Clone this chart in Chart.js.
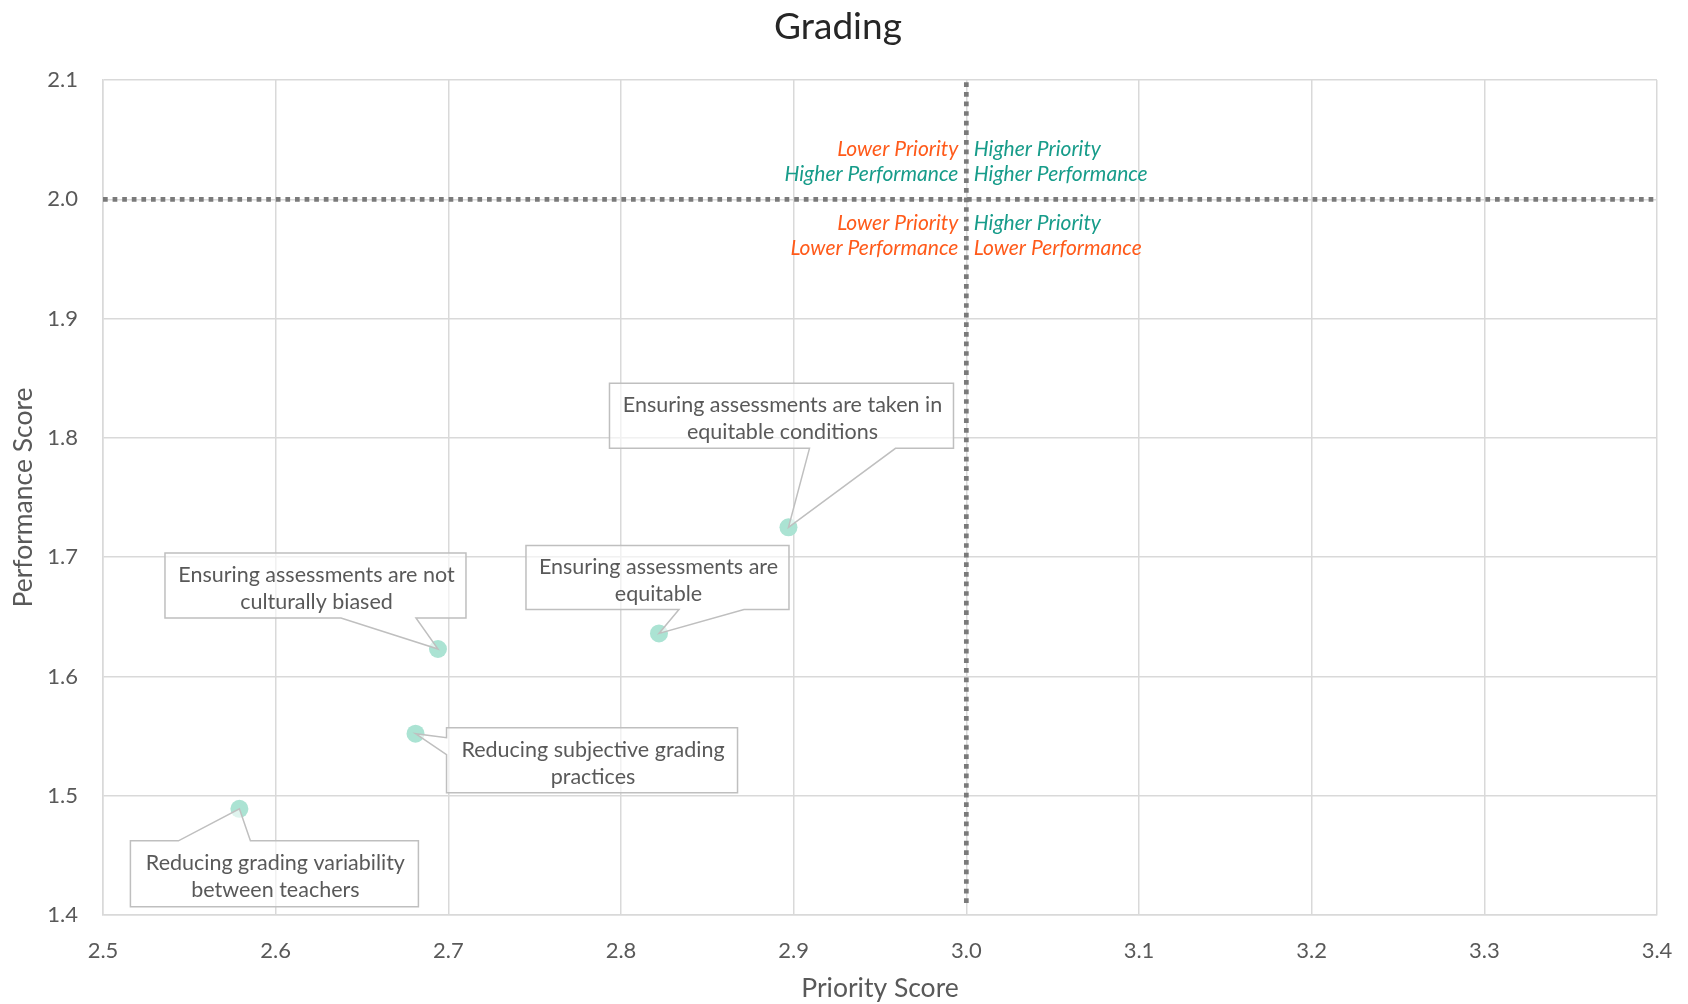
<!DOCTYPE html>
<html>
<head>
<meta charset="utf-8">
<script src="https://cdn.jsdelivr.net/npm/chart.js@4.4.1/dist/chart.umd.min.js"></script>
<style>
  html, body { margin: 0; padding: 0; background: #ffffff; }
  #wrap { width: 1688px; height: 1004px; }
  canvas { display: block; }
</style>
</head>
<body>
<div id="wrap"><canvas id="chart" width="1688" height="1004"></canvas></div>
<script>
// ---- Content ----
const chartTitle = 'Grading';
const xAxisTitle = 'Priority Score';
const yAxisTitle = 'Performance Score';

const xTickLabels = ['2.5', '2.6', '2.7', '2.8', '2.9', '3.0', '3.1', '3.2', '3.3', '3.4'];
const yTickLabels = ['1.4', '1.5', '1.6', '1.7', '1.8', '1.9', '2.0', '2.1'];

const itemLabels = [
  ['Ensuring assessments are taken in', 'equitable conditions'],
  ['Ensuring assessments are', 'equitable'],
  ['Ensuring assessments are not', 'culturally biased'],
  ['Reducing subjective grading', 'practices'],
  ['Reducing grading variability', 'between teachers']
];
const priorityScores    = [2.897, 2.822, 2.694, 2.681, 2.579];
const performanceScores = [1.725, 1.636, 1.623, 1.552, 1.489];

// Quadrant dividers
const priorityThreshold = 3.0;
const performanceThreshold = 2.0;
const dividerBottom = 1.41;

const quadrantTopLeft     = ['Lower Priority', 'Higher Performance'];
const quadrantTopRight    = ['Higher Priority', 'Higher Performance'];
const quadrantBottomLeft  = ['Lower Priority', 'Lower Performance'];
const quadrantBottomRight = ['Higher Priority', 'Lower Performance'];

// ---- Styling ----
const ORANGE = '#FF5A1A';
const TEAL = '#179C8A';
const GRID = '#D9D9D9';
const TEXT = '#595959';
const DOTS = '#7A7A7A';

// Callout box placement, in pixels relative to the point it points at.
// side: edge of the box the pointer leaves from; a/b: pointer base along that edge.
const calloutLayout = [
  { dx: -179, dy: -144, w: 344, h: 65, side: 'bottom', a: 21,  b: 107 },
  { dx: -133, dy: -88,  w: 263, h: 64, side: 'bottom', a: 20,  b: 85 },
  { dx: -273, dy: -96,  w: 301, h: 65, side: 'bottom', a: -97, b: -22 },
  { dx: 31,   dy: -6,   w: 291, h: 65, side: 'left',   a: 4,   b: 21 },
  { dx: -109, dy: 32,   w: 288, h: 66, side: 'top',    a: -61, b: 11 }
];

const points = priorityScores.map((x, i) => ({ x, y: performanceScores[i] }));

function colorFor(word) { return word.startsWith('Higher') ? TEAL : ORANGE; }

const annotationPlugin = {
  id: 'quadrantAndCallouts',
  afterDatasetsDraw(chart) {
    const { ctx, scales: { x: xs, y: ys } } = chart;

    // Quadrant captions around the divider crossing
    const cx = xs.getPixelForValue(priorityThreshold);
    const cy = ys.getPixelForValue(performanceThreshold);
    ctx.save();
    ctx.font = 'italic 21px Lato';
    ctx.textBaseline = 'alphabetic';
    const rows = [
      [quadrantTopLeft[0], quadrantTopRight[0], -43],
      [quadrantTopLeft[1], quadrantTopRight[1], -18],
      [quadrantBottomLeft[0], quadrantBottomRight[0], 31],
      [quadrantBottomLeft[1], quadrantBottomRight[1], 56]
    ];
    rows.forEach(([l, r, off]) => {
      ctx.textAlign = 'right';
      ctx.fillStyle = colorFor(l);
      ctx.fillText(l, cx - 8, cy + off);
      ctx.textAlign = 'left';
      ctx.fillStyle = colorFor(r);
      ctx.fillText(r, cx + 7.5, cy + off);
    });
    ctx.restore();

    // Callouts
    ctx.save();
    ctx.lineWidth = 1.5;
    ctx.strokeStyle = '#BFBFBF';
    ctx.fillStyle = 'rgba(255,255,255,0.62)';
    ctx.lineJoin = 'miter';
    points.forEach((p, i) => {
      const L = calloutLayout[i];
      const px = xs.getPixelForValue(p.x);
      const py = ys.getPixelForValue(p.y);
      const x0 = px + L.dx, y0 = py + L.dy, x1 = x0 + L.w, y1 = y0 + L.h;
      ctx.beginPath();
      if (L.side === 'bottom') {
        ctx.moveTo(x0, y0); ctx.lineTo(x1, y0); ctx.lineTo(x1, y1);
        ctx.lineTo(px + L.b, y1); ctx.lineTo(px, py); ctx.lineTo(px + L.a, y1);
        ctx.lineTo(x0, y1);
      } else if (L.side === 'top') {
        ctx.moveTo(x0, y0); ctx.lineTo(px + L.a, y0); ctx.lineTo(px, py);
        ctx.lineTo(px + L.b, y0); ctx.lineTo(x1, y0); ctx.lineTo(x1, y1);
        ctx.lineTo(x0, y1);
      } else {
        ctx.moveTo(x0, y0); ctx.lineTo(x1, y0); ctx.lineTo(x1, y1);
        ctx.lineTo(x0, y1); ctx.lineTo(x0, py + L.b); ctx.lineTo(px, py);
        ctx.lineTo(x0, py + L.a);
      }
      ctx.closePath();
      ctx.fill();
      ctx.stroke();

      ctx.save();
      ctx.fillStyle = TEXT;
      ctx.font = '21.5px Lato';
      ctx.textAlign = 'center';
      ctx.textBaseline = 'alphabetic';
      const mid = (x0 + x1) / 2 + 1;
      itemLabels[i].forEach((line, k) => {
        ctx.fillText(line, mid, y0 + 29 + k * 27);
      });
      ctx.restore();
    });
    ctx.restore();
  },
  afterDraw(chart) {
    // Chart heading, centred a little left of the canvas middle
    const { ctx } = chart;
    ctx.save();
    ctx.font = '37px Lato';
    ctx.fillStyle = '#262626';
    ctx.textAlign = 'center';
    ctx.textBaseline = 'alphabetic';
    ctx.fillText(chartTitle, 838, 38.5);
    ctx.restore();
  }
};

const dividerStyle = {
  showLine: true,
  borderColor: DOTS,
  borderWidth: 4.7,
  borderDash: [4.7, 4.9],
  borderCapStyle: 'butt',
  pointRadius: 0,
  fill: false
};

new Chart(document.getElementById('chart'), {
  type: 'scatter',
  data: {
    datasets: [
      {
        label: 'Items',
        data: points,
        pointRadius: 9,
        pointHoverRadius: 9,
        pointBackgroundColor: '#ABE3D3',
        pointBorderWidth: 0,
        showLine: false
      },
      Object.assign({
        label: 'Performance divider',
        data: [{ x: 2.5, y: performanceThreshold }, { x: 3.4, y: performanceThreshold }]
      }, dividerStyle),
      Object.assign({
        label: 'Priority divider',
        data: [{ x: priorityThreshold, y: dividerBottom }, { x: priorityThreshold, y: 2.1 }]
      }, dividerStyle)
    ]
  },
  options: {
    responsive: false,
    animation: false,
    devicePixelRatio: 1,
    layout: { padding: { top: 80, right: 0, bottom: 0, left: 0 } },
    plugins: {
      legend: { display: false },
      tooltip: { enabled: false },
      title: { display: false }
    },
    scales: {
      x: {
        type: 'linear',
        min: 2.5,
        max: 3.4,
        afterFit(scale) { scale.height = 89; scale.paddingRight = 31; },
        ticks: {
          stepSize: 0.1,
          padding: 23,
          color: TEXT,
          font: { family: 'Lato', size: 22 },
          callback: (v, i) => xTickLabels[i]
        },
        grid: { color: GRID, lineWidth: 1.5, drawTicks: false },
        border: { color: GRID, width: 1.5 },
        title: {
          display: true,
          text: xAxisTitle,
          color: TEXT,
          font: { family: 'Lato', size: 26.5 },
          padding: { top: 0, bottom: 0 }
        }
      },
      y: {
        type: 'linear',
        min: 1.4,
        max: 2.1,
        afterFit(scale) { scale.width = 103; },
        ticks: {
          stepSize: 0.1,
          padding: 25,
          color: TEXT,
          font: { family: 'Lato', size: 22 },
          callback: (v, i) => yTickLabels[i]
        },
        grid: { color: GRID, lineWidth: 1.5, drawTicks: false },
        border: { color: GRID, width: 1.5 },
        title: {
          display: true,
          text: yAxisTitle,
          color: TEXT,
          font: { family: 'Lato', size: 26.5 },
          padding: { top: 8, bottom: 0 }
        }
      }
    }
  },
  plugins: [annotationPlugin]
});
</script>
</body>
</html>
